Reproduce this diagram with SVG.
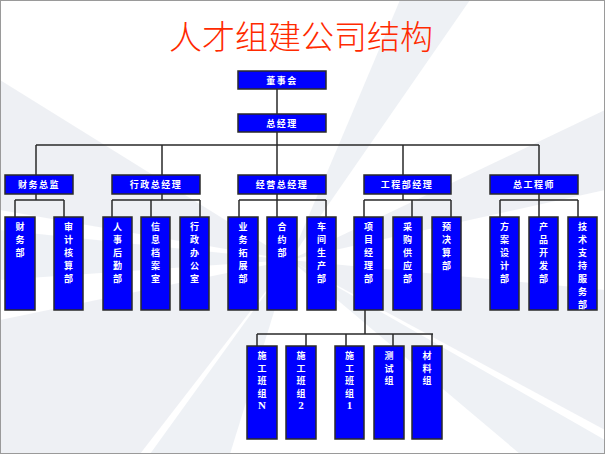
<svg xmlns="http://www.w3.org/2000/svg" width="605" height="454" viewBox="0 0 605 454">
<style>
.box{fill:#0000ff;stroke:#2a2a2a;stroke-width:1.5}
.lbl{fill:#fff;font-family:"Noto Sans CJK SC","Noto Sans CJK JP",sans-serif;font-size:9px;font-weight:bold;text-anchor:middle}
.h{letter-spacing:1.5px}
.ln{stroke:#2a2a2a;stroke-width:1.5;fill:none}
.bg{fill:#c9d0dc;opacity:0.32}
.bg2{fill:#aab8cc;opacity:0.2}
</style>
<rect x="0" y="0" width="605" height="454" fill="#fff"/>
<g id="background">
<polygon class="bg" points="290,260 0,80 0,210"/>
<polygon class="bg" points="290,260 0,320 0,454 140,454"/>
<polygon class="bg2" points="290,260 150,454 230,454"/>
<polygon class="bg" points="290,260 605,110 605,190"/>
<polygon class="bg" points="290,260 605,290 605,430"/>
<polygon class="bg2" points="290,260 400,0 470,0"/>
<polygon class="bg2" points="290,260 520,454 605,454 605,440"/>
<polygon class="bg2" points="290,260 0,230 0,280"/>
</g>
<rect x="0.5" y="0.5" width="604" height="453" fill="none" stroke="#9a9a9a" stroke-width="1"/>
<text id="title" x="301" y="49" font-family="'Noto Sans CJK SC','Noto Sans CJK JP',sans-serif" font-size="33" font-weight="300" fill="#ff2a00" text-anchor="middle">人才组建公司结构</text>
<g id="connectors">
<path class="ln" d="M277,89V114M277,132V145M36,145H539M36,145V175M162,145V175M277,145V175M403,145V175M539,145V175"/>
<path class="ln" d="M36,194V200M15,200H64M15,200V217M64,200V217"/>
<path class="ln" d="M162,194V200M112,200H200M112,200V217M151,200V217M200,200V217"/>
<path class="ln" d="M277,194V200M239,200H326M239,200V217M277,200V217M326,200V217"/>
<path class="ln" d="M403,194V200M364,200H451M364,200V217M412,200V217M451,200V217"/>
<path class="ln" d="M539,194V200M500,200H578M500,200V217M539,200V217M578,200V217"/>
<path class="ln" d="M365,310V334M257,334H433M257,334V346M306,334V346M346,334V346M393,334V346M432,334V346"/>
</g>
<g id="n-dongshihui"><rect class="box" x="238" y="71" width="88" height="18"/><text class="lbl h" x="282" y="84">董事会</text></g>
<g id="n-zongjingli"><rect class="box" x="238" y="114" width="88" height="18"/><text class="lbl h" x="282" y="127">总经理</text></g>
<g id="n-caiwuzongjian"><rect class="box" x="5" y="175" width="68" height="19"/><text class="lbl h" x="39" y="188">财务总监</text></g>
<g id="n-xingzheng"><rect class="box" x="112" y="175" width="88" height="19"/><text class="lbl h" x="156" y="188">行政总经理</text></g>
<g id="n-jingying"><rect class="box" x="238" y="175" width="88" height="19"/><text class="lbl h" x="282" y="188">经营总经理</text></g>
<g id="n-gongcheng"><rect class="box" x="364" y="175" width="87" height="19"/><text class="lbl h" x="407" y="188">工程部经理</text></g>
<g id="n-zonggong"><rect class="box" x="490" y="175" width="88" height="19"/><text class="lbl h" x="534" y="188">总工程师</text></g>

<g id="n-caiwubu"><rect class="box" x="5" y="217" width="30" height="93"/><text class="lbl" x="20" y="230"><tspan x="20">财</tspan><tspan x="20" dy="13">务</tspan><tspan x="20" dy="13">部</tspan></text></g>
<g id="n-shenji"><rect class="box" x="54" y="217" width="29" height="93"/><text class="lbl" x="68.5" y="230"><tspan x="68.5">审</tspan><tspan x="68.5" dy="13">计</tspan><tspan x="68.5" dy="13">核</tspan><tspan x="68.5" dy="13">算</tspan><tspan x="68.5" dy="13">部</tspan></text></g>
<g id="n-renshi"><rect class="box" x="103" y="217" width="29" height="93"/><text class="lbl" x="117.5" y="230"><tspan x="117.5">人</tspan><tspan x="117.5" dy="13">事</tspan><tspan x="117.5" dy="13">后</tspan><tspan x="117.5" dy="13">勤</tspan><tspan x="117.5" dy="13">部</tspan></text></g>
<g id="n-xinxi"><rect class="box" x="141" y="217" width="29" height="93"/><text class="lbl" x="155.5" y="230"><tspan x="155.5">信</tspan><tspan x="155.5" dy="13">息</tspan><tspan x="155.5" dy="13">档</tspan><tspan x="155.5" dy="13">案</tspan><tspan x="155.5" dy="13">室</tspan></text></g>
<g id="n-bangongshi"><rect class="box" x="180" y="217" width="29" height="93"/><text class="lbl" x="194.5" y="230"><tspan x="194.5">行</tspan><tspan x="194.5" dy="13">政</tspan><tspan x="194.5" dy="13">办</tspan><tspan x="194.5" dy="13">公</tspan><tspan x="194.5" dy="13">室</tspan></text></g>
<g id="n-yewu"><rect class="box" x="228" y="217" width="30" height="93"/><text class="lbl" x="243" y="230"><tspan x="243">业</tspan><tspan x="243" dy="13">务</tspan><tspan x="243" dy="13">拓</tspan><tspan x="243" dy="13">展</tspan><tspan x="243" dy="13">部</tspan></text></g>
<g id="n-heyue"><rect class="box" x="267" y="217" width="30" height="93"/><text class="lbl" x="282" y="230"><tspan x="282">合</tspan><tspan x="282" dy="13">约</tspan><tspan x="282" dy="13">部</tspan></text></g>
<g id="n-chejian"><rect class="box" x="307" y="217" width="29" height="93"/><text class="lbl" x="321.5" y="230"><tspan x="321.5">车</tspan><tspan x="321.5" dy="13">间</tspan><tspan x="321.5" dy="13">生</tspan><tspan x="321.5" dy="13">产</tspan><tspan x="321.5" dy="13">部</tspan></text></g>
<g id="n-xiangmu"><rect class="box" x="354" y="217" width="29" height="93"/><text class="lbl" x="368.5" y="230"><tspan x="368.5">项</tspan><tspan x="368.5" dy="13">目</tspan><tspan x="368.5" dy="13">经</tspan><tspan x="368.5" dy="13">理</tspan><tspan x="368.5" dy="13">部</tspan></text></g>
<g id="n-caigou"><rect class="box" x="393" y="217" width="29" height="93"/><text class="lbl" x="407.5" y="230"><tspan x="407.5">采</tspan><tspan x="407.5" dy="13">购</tspan><tspan x="407.5" dy="13">供</tspan><tspan x="407.5" dy="13">应</tspan><tspan x="407.5" dy="13">部</tspan></text></g>
<g id="n-yujuesuan"><rect class="box" x="432" y="217" width="29" height="93"/><text class="lbl" x="446.5" y="230"><tspan x="446.5">预</tspan><tspan x="446.5" dy="13">决</tspan><tspan x="446.5" dy="13">算</tspan><tspan x="446.5" dy="13">部</tspan></text></g>
<g id="n-fangan"><rect class="box" x="490" y="217" width="29" height="93"/><text class="lbl" x="504.5" y="230"><tspan x="504.5">方</tspan><tspan x="504.5" dy="13">案</tspan><tspan x="504.5" dy="13">设</tspan><tspan x="504.5" dy="13">计</tspan><tspan x="504.5" dy="13">部</tspan></text></g>
<g id="n-chanpin"><rect class="box" x="529" y="217" width="29" height="93"/><text class="lbl" x="543.5" y="230"><tspan x="543.5">产</tspan><tspan x="543.5" dy="13">品</tspan><tspan x="543.5" dy="13">开</tspan><tspan x="543.5" dy="13">发</tspan><tspan x="543.5" dy="13">部</tspan></text></g>
<g id="n-jishu"><rect class="box" x="568" y="217" width="29" height="93"/><text class="lbl" x="582.5" y="230"><tspan x="582.5">技</tspan><tspan x="582.5" dy="13">术</tspan><tspan x="582.5" dy="13">支</tspan><tspan x="582.5" dy="13">持</tspan><tspan x="582.5" dy="13">服</tspan><tspan x="582.5" dy="13">务</tspan><tspan x="582.5" dy="13">部</tspan></text></g>

<g id="n-banzuN"><rect class="box" x="247" y="346" width="30" height="93"/><text class="lbl" x="262" y="359"><tspan x="262">施</tspan><tspan x="262" dy="12.5">工</tspan><tspan x="262" dy="12.5">班</tspan><tspan x="262" dy="12.5">组</tspan><tspan x="262" dy="12.5" font-family="'Liberation Serif',serif" font-size="11">N</tspan></text></g>
<g id="n-banzu2"><rect class="box" x="286" y="346" width="30" height="93"/><text class="lbl" x="301" y="359"><tspan x="301">施</tspan><tspan x="301" dy="12.5">工</tspan><tspan x="301" dy="12.5">班</tspan><tspan x="301" dy="12.5">组</tspan><tspan x="301" dy="12.5" font-family="'Liberation Serif',serif" font-size="11">2</tspan></text></g>
<g id="n-banzu1"><rect class="box" x="335" y="346" width="29" height="93"/><text class="lbl" x="349.5" y="359"><tspan x="349.5">施</tspan><tspan x="349.5" dy="12.5">工</tspan><tspan x="349.5" dy="12.5">班</tspan><tspan x="349.5" dy="12.5">组</tspan><tspan x="349.5" dy="12.5" font-family="'Liberation Serif',serif" font-size="11">1</tspan></text></g>
<g id="n-ceshi"><rect class="box" x="374" y="346" width="30" height="93"/><text class="lbl" x="389" y="359"><tspan x="389">测</tspan><tspan x="389" dy="12.5">试</tspan><tspan x="389" dy="12.5">组</tspan></text></g>
<g id="n-cailiao"><rect class="box" x="412" y="346" width="30" height="93"/><text class="lbl" x="427" y="359"><tspan x="427">材</tspan><tspan x="427" dy="12.5">料</tspan><tspan x="427" dy="12.5">组</tspan></text></g>
</svg>
